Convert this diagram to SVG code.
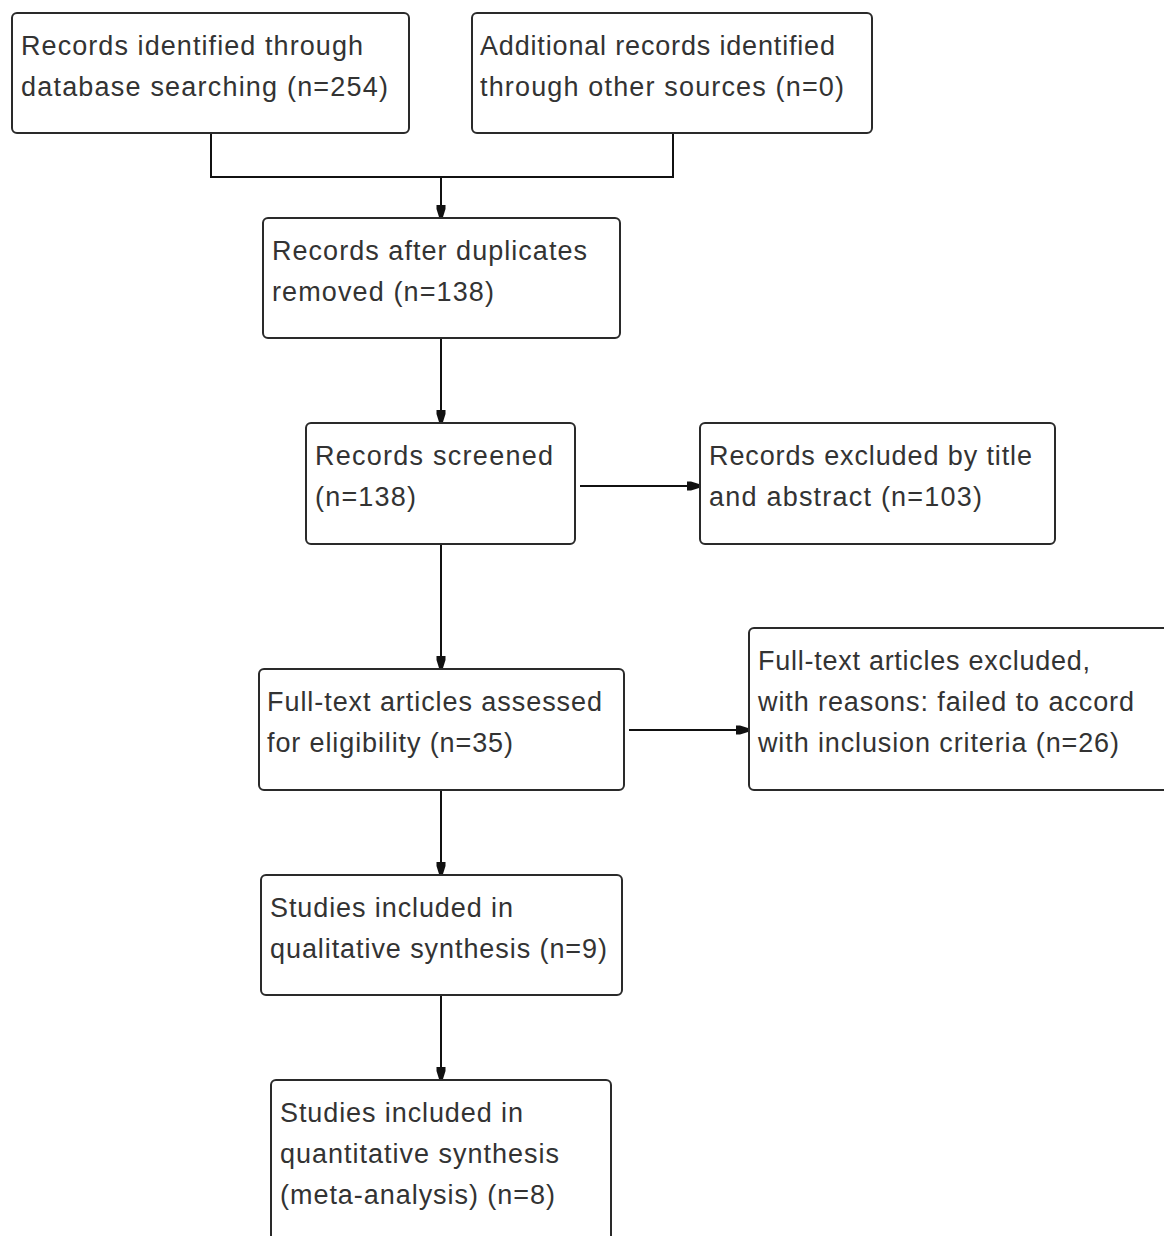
<svg xmlns="http://www.w3.org/2000/svg" width="1164" height="1236" viewBox="0 0 1164 1236">
<style>
.box{fill:#fff;stroke:#2a2a2a;stroke-width:2}
.t{font-family:"Liberation Sans",Arial,sans-serif;font-size:27px;fill:#333}
.c{fill:none;stroke:#111;stroke-width:2}
</style>
<defs>
<marker id="ah" markerWidth="13" markerHeight="10" refX="12" refY="5" orient="auto" markerUnits="userSpaceOnUse">
<path d="M0,0.5 L4,0.5 L12,3 L12,7 L4,9.5 L0,9.5 Z" fill="#111"/>
</marker>
</defs>
<rect width="1164" height="1236" fill="#fff"/>
<g id="connectors">
<path class="c" d="M211,133 V177 H673 V133"/>
<path class="c" d="M441,177 V217" marker-end="url(#ah)"/>
<path class="c" d="M441,338 V422" marker-end="url(#ah)"/>
<path class="c" d="M580,486 H699" marker-end="url(#ah)"/>
<path class="c" d="M441,544 V668" marker-end="url(#ah)"/>
<path class="c" d="M629,730 H748" marker-end="url(#ah)"/>
<path class="c" d="M441,790 V874" marker-end="url(#ah)"/>
<path class="c" d="M441,995 V1079" marker-end="url(#ah)"/>
</g>
<g id="n1"><rect class="box" x="12" y="13" width="397" height="120" rx="5"/>
<text class="t" x="21" y="55" textLength="342" lengthAdjust="spacing">Records identified through</text><text class="t" x="21" y="96" textLength="367" lengthAdjust="spacing">database searching (n=254)</text></g>
<g id="n2"><rect class="box" x="472" y="13" width="400" height="120" rx="5"/>
<text class="t" x="480" y="55" textLength="355" lengthAdjust="spacing">Additional records identified</text><text class="t" x="480" y="96" textLength="364" lengthAdjust="spacing">through other sources (n=0)</text></g>
<g id="n3"><rect class="box" x="263" y="218" width="357" height="120" rx="5"/>
<text class="t" x="272" y="260" textLength="315" lengthAdjust="spacing">Records after duplicates</text><text class="t" x="272" y="301" textLength="222" lengthAdjust="spacing">removed (n=138)</text></g>
<g id="n4"><rect class="box" x="306" y="423" width="269" height="121" rx="5"/>
<text class="t" x="315" y="465" textLength="238" lengthAdjust="spacing">Records screened</text><text class="t" x="315" y="506" textLength="101" lengthAdjust="spacing">(n=138)</text></g>
<g id="n5"><rect class="box" x="700" y="423" width="355" height="121" rx="5"/>
<text class="t" x="709" y="465" textLength="323" lengthAdjust="spacing">Records excluded by title</text><text class="t" x="709" y="506" textLength="273" lengthAdjust="spacing">and abstract (n=103)</text></g>
<g id="n6"><rect class="box" x="259" y="669" width="365" height="121" rx="5"/>
<text class="t" x="267" y="711" textLength="335" lengthAdjust="spacing">Full-text articles assessed</text><text class="t" x="267" y="752" textLength="246" lengthAdjust="spacing">for eligibility (n=35)</text></g>
<g id="n7"><rect class="box" x="749" y="628" width="420" height="162" rx="5"/>
<text class="t" x="758" y="670" textLength="332" lengthAdjust="spacing">Full-text articles excluded,</text><text class="t" x="758" y="711" textLength="376" lengthAdjust="spacing">with reasons: failed to accord</text><text class="t" x="758" y="752" textLength="361" lengthAdjust="spacing">with inclusion criteria (n=26)</text></g>
<g id="n8"><rect class="box" x="261" y="875" width="361" height="120" rx="5"/>
<text class="t" x="270" y="917" textLength="243" lengthAdjust="spacing">Studies included in</text><text class="t" x="270" y="958" textLength="337" lengthAdjust="spacing">qualitative synthesis (n=9)</text></g>
<g id="n9"><rect class="box" x="271" y="1080" width="340" height="200" rx="5"/>
<text class="t" x="280" y="1122" textLength="243" lengthAdjust="spacing">Studies included in</text><text class="t" x="280" y="1163" textLength="279" lengthAdjust="spacing">quantitative synthesis</text><text class="t" x="280" y="1204" textLength="275" lengthAdjust="spacing">(meta-analysis) (n=8)</text></g>
</svg>
